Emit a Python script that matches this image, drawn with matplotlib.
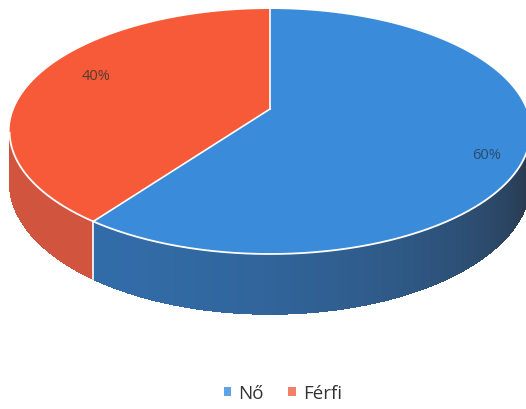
import numpy as np
import matplotlib
matplotlib.use("Agg")
import matplotlib.pyplot as plt
from matplotlib.patches import Polygon, Patch

# ---- data ----
categories = ["Nő", "Férfi"]
values = [60, 40]
pct_labels = ["60%", "40%"]
top_colors = ["#3A8CDA", "#F65A38"]
legend_colors = ["#5DA3E6", "#F47F68"]

# ---- figure ----
fig = plt.figure(figsize=(5.26, 4.10), dpi=100)
ax = fig.add_axes([0, 0, 1, 1])
ax.set_xlim(0, 526)
ax.set_ylim(410, 0)
ax.axis("off")

# perspective projection of a unit disc (u right, v back) onto the canvas
cx, cy = 270.0, 110.0
A = 256.0
r = 0.1837
p = -98.16
d0 = 49.0


def proj(t, depth=0.0):
    t = np.radians(t)
    u, v = np.cos(t), np.sin(t)
    den = 1 + r * v
    return cx + A * u / den, (cy + p * v) / den + depth / den


# slice angles: Férfi starts at top (90°) counterclockwise, Nő takes the rest
total = sum(values)
start = 90.0
ferfi_span = 360.0 * values[1] / total
angles = {"Férfi": (start, start + ferfi_span), "Nő": (start + ferfi_span, start + 360.0)}
split = start + ferfi_span


def side_color(t):
    if t < split:
        return np.array([208, 84, 62]) / 255
    f = np.clip((t - split) / (360 - split), 0, 1) ** 1.7
    c0 = np.array([50, 108, 168])
    c1 = np.array([38, 41, 48])
    return (c0 * (1 - f) + c1 * f) / 255


# ---- side wall ----
ts = np.linspace(191, 349, 360)
for t0, t1 in zip(ts[:-1], ts[1:]):
    col = side_color(0.5 * (t0 + t1))
    x0, y0 = proj(t0)
    x1, y1 = proj(t1)
    x0b, y0b = proj(t0, d0)
    x1b, y1b = proj(t1, d0)
    pts = [(x0, y0 - 1), (x1, y1 - 1), (x1b, y1b), (x0b, y0b)]
    ax.add_patch(Polygon(pts, closed=True, facecolor=col, edgecolor=col, lw=0.4,
                         antialiased=False))

sx, sy = proj(split)
sxb, syb = proj(split, d0)
ax.plot([sx, sxb], [sy, syb], color="white", lw=1.2)

# ---- top face ----
for name, col in zip(categories, top_colors):
    t0, t1 = angles[name]
    tt = np.linspace(t0, t1, 300)
    xs, ys = proj(tt)
    pts = [(cx, cy)] + list(zip(xs, ys))
    ax.add_patch(Polygon(pts, closed=True, facecolor=col, edgecolor="none"))

for t in (start, split):
    ex, ey = proj(t)
    ax.plot([cx, ex], [cy, ey], color="white", lw=1.2)
tt = np.linspace(191, 349, 300)
xs, ys = proj(tt)
ax.plot(xs, ys, color="white", lw=1.3)

# percentage labels
ax.text(96, 76, pct_labels[1], fontsize=10.5, color="#5a3a30", ha="center", va="center",
        family="Open Sans")
ax.text(487, 156, pct_labels[0], fontsize=10.5, color="#2a4a70", ha="center", va="center",
        family="Open Sans")

# legend
handles = [Patch(facecolor=c, edgecolor="none") for c in legend_colors]
leg = ax.legend(handles, categories, loc="center", bbox_to_anchor=(283 / 526, 1 - 394 / 410),
                bbox_transform=fig.transFigure, ncol=2, frameon=False,
                prop={"family": "Open Sans", "size": 13.5},
                handlelength=0.4, handleheight=0.4, handletextpad=0.4, columnspacing=1.3)
for t in leg.get_texts():
    t.set_color("#333333")

fig.savefig("out.png", dpi=100)
